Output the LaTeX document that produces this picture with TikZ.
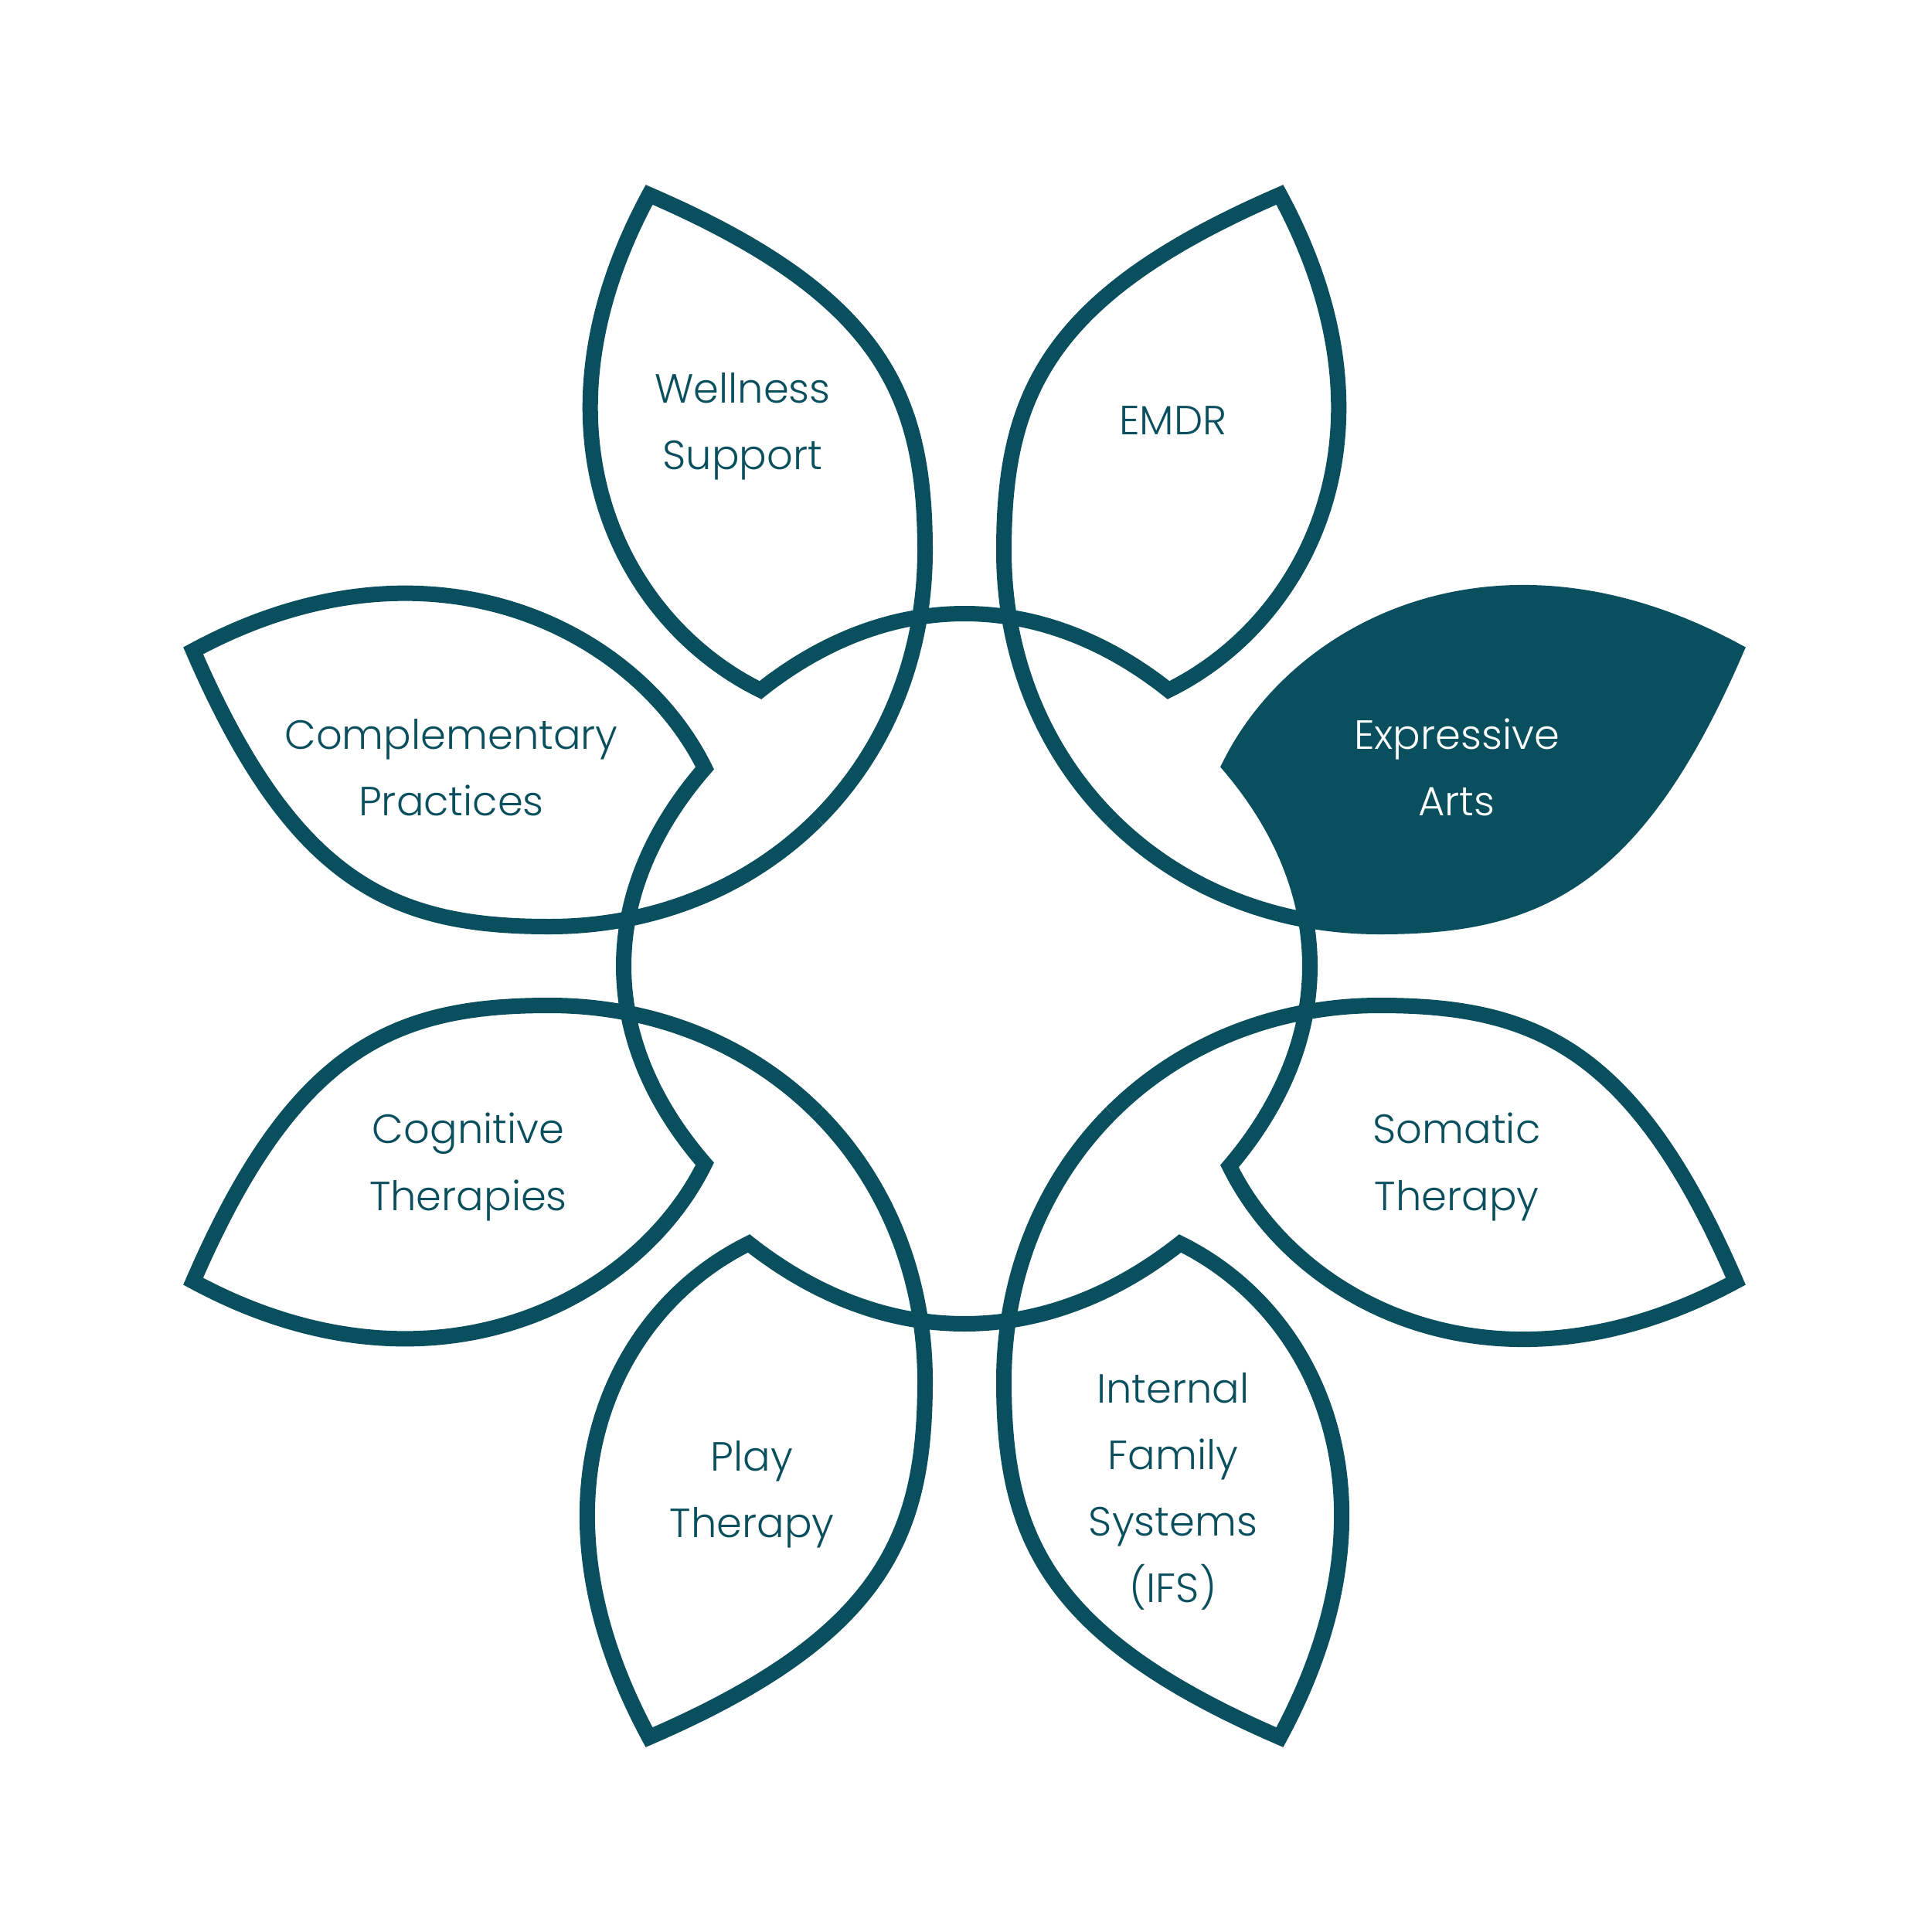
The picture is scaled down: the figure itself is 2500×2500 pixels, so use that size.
\documentclass[tikz,border=0pt]{standalone}
\usepackage{fontspec}
\setmainfont{Poppins Light}
\usetikzlibrary{positioning}
\definecolor{petal}{HTML}{0A4F5E}

\begin{document}
\begin{tikzpicture}[
    x=0.01cm, y=-0.01cm,
    outline/.style={draw=petal, line width=0.2cm, line join=miter},
    petaltext/.style={text=petal, align=center, font=\fontsize{15}{24.5}\selectfont},
    filltext/.style={petaltext, text=white}
  ]
  \useasboundingbox (0,0) rectangle (2500,2500);

  % filled petal, cut off by the long stroke
  \begin{scope}[rotate around={-90:(1248,1250)}]
    \clip (1058,1060) .. controls (1150,968) and (1197,843) .. (1197,713)
      .. controls (1197,513) and (1143,383) .. (840,252)
      -- (840,-100) -- (-100,-100) -- (-100,1060) -- cycle;
    \fill[petal] (840,252) .. controls (674,559) and (810,819) .. (989,907)
      .. controls (1152,768) and (1344,768) .. (1507,907)
      -- (1600,100) -- (900,100) -- cycle;
  \end{scope}

  % the outline, one quarter turned four times (half width a, depth b, top h of the inner arc)
  \foreach \ang/\a/\b/\h in {0/264/357/456, -90/259/343/447, -180/279/359/463, -270/256/336/441} {
    \pgfmathsetmacro\vy{1250-\b}
    \pgfmathsetmacro\cy{(1250-\h-0.25*\vy)/0.75}
    \draw[outline, rotate around={\ang:(1248,1250)}]
      (1058,1060) .. controls (1150,968) and (1197,843) .. (1197,713)
      .. controls (1197,513) and (1143,383) .. (840,252)
      .. controls (674,559) and ({1248-\a-179},{\vy-88}) .. ({1248-\a},\vy)
      .. controls ({1248-0.37*\a},\cy) and ({1248+0.37*\a},\cy) .. ({1248+\a},\vy)
      .. controls ({1248+\a+179},{\vy-88}) and (1822,559) .. (1656,252)
      .. controls (1353,383) and (1299,513) .. (1299,713)
      .. controls (1299,843) and (1346,968) .. (1438,1060);
  }

  \node[petaltext] (wellness) at (961,552) {Wellness\\Support};
  \node[petaltext] (emdr) at (1518,544) {EMDR};
  \node[filltext] (expressive) at (1885,993) {Expressive\\Arts};
  \node[petaltext] (somatic) at (1885,1510) {Somatic\\Therapy};
  \node[petaltext] (ifs) at (1518,1930) {Internal\\Family\\Systems\\(IFS)};
  \node[petaltext] (play) at (973,1934) {Play\\Therapy};
  \node[petaltext] (cognitive) at (606,1510) {Cognitive\\Therapies};
  \node[petaltext] (complementary) at (584,993) {Complementary\\Practices};
\end{tikzpicture}
\end{document}
